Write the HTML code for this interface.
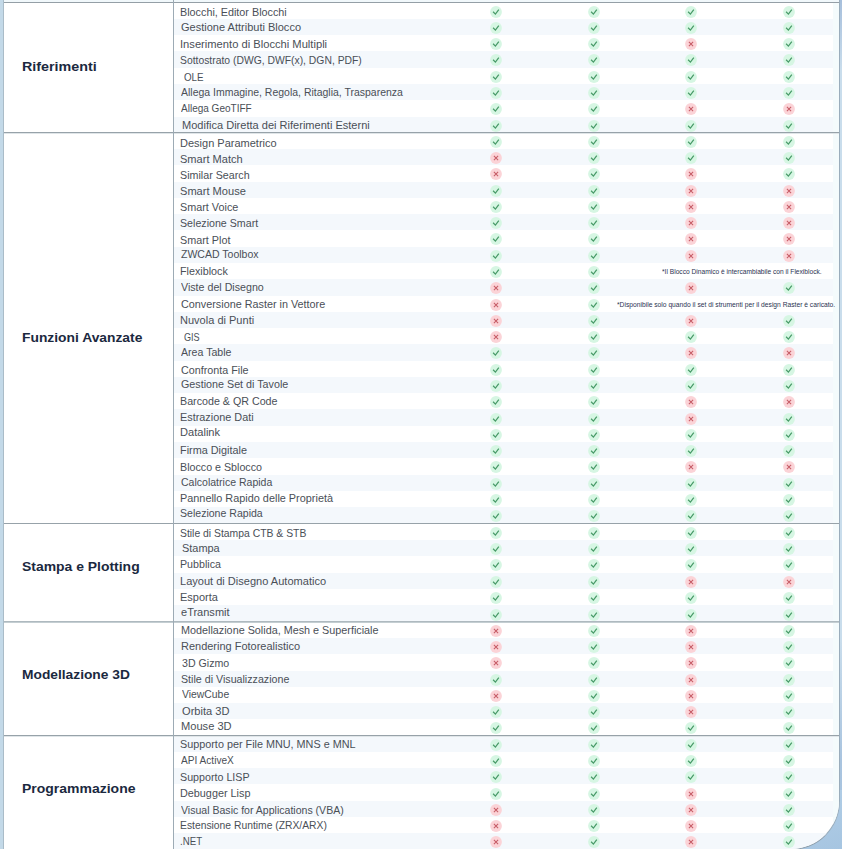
<!DOCTYPE html>
<html><head><meta charset="utf-8">
<style>
html,body{margin:0;padding:0;}
body{width:842px;height:849px;overflow:hidden;position:relative;background:#c3d9e8;font-family:"Liberation Sans",sans-serif;}
.box{position:absolute;left:3px;top:-20px;width:835px;height:868px;background:#fff;border:1px solid #8fa0ad;border-left-color:#aabcc8;border-right-color:#9aadbc;border-bottom-right-radius:49px;overflow:hidden;}
.rs{position:absolute;left:840px;top:0;width:2px;height:849px;background:linear-gradient(#a6bfdc 0px,#c9ddec 70px,#c9ddec 640px,#a9c4df 760px,#a9c6e1 849px);}
.cn{position:absolute;left:780px;top:790px;width:62px;height:59px;background:linear-gradient(160deg,#b3cfe7,#a6c5e1);}
.s{position:absolute;left:170px;width:659px;background:#f4f8fc;}
.h{position:absolute;left:0;width:835px;height:1px;background:#929ea8;}
.v{position:absolute;left:169px;top:0;width:1px;height:868px;background:#9dabb5;}
.t{position:absolute;white-space:pre;font-size:10.30px;color:#4a4f57;line-height:1;transform-origin:0 0;}
.l{position:absolute;white-space:pre;font-size:13.70px;font-weight:bold;color:#1b2940;line-height:1;transform-origin:0 0;}
.n{position:absolute;white-space:pre;font-size:6.60px;color:#2b3352;line-height:1;transform-origin:0 0;}
svg.i{position:absolute;width:14px;height:14px;overflow:visible;}
</style></head><body>
<div class="rs"></div><div class="cn"></div>
<div class="box">
<div style="position:absolute;left:829px;top:0;width:6px;height:868px;background:#f4fbfc"></div>

<div style="position:absolute;left:0;top:0;width:835px;height:21.00px;background:#f1f8fb"></div>
<div class="t" id="r0" style="left:176.25px;top:26.51px;transform:scaleX(1.0476)">Blocchi, Editor Blocchi</div>
<svg class="i" style="left:485.20px;top:23.54px" viewBox="-7 -7 14 14"><circle r="5.90" fill="#d6f6e3"/><path d="M-2.9 -0.2L-0.6 2.1L2.8 -2.3" fill="none" stroke="#479a67" stroke-width="1.25"/></svg>
<svg class="i" style="left:582.80px;top:23.54px" viewBox="-7 -7 14 14"><circle r="5.90" fill="#d6f6e3"/><path d="M-2.9 -0.2L-0.6 2.1L2.8 -2.3" fill="none" stroke="#479a67" stroke-width="1.25"/></svg>
<svg class="i" style="left:680.40px;top:23.54px" viewBox="-7 -7 14 14"><circle r="5.90" fill="#d6f6e3"/><path d="M-2.9 -0.2L-0.6 2.1L2.8 -2.3" fill="none" stroke="#479a67" stroke-width="1.25"/></svg>
<svg class="i" style="left:778.00px;top:23.54px" viewBox="-7 -7 14 14"><circle r="5.90" fill="#d6f6e3"/><path d="M-2.9 -0.2L-0.6 2.1L2.8 -2.3" fill="none" stroke="#479a67" stroke-width="1.25"/></svg>
<div class="s" style="top:37.79px;height:16.29px"></div>
<div class="t" id="r1" style="left:177.25px;top:41.81px;transform:scaleX(1.0698)">Gestione Attributi Blocco</div>
<svg class="i" style="left:485.20px;top:39.83px" viewBox="-7 -7 14 14"><circle r="5.90" fill="#d6f6e3"/><path d="M-2.9 -0.2L-0.6 2.1L2.8 -2.3" fill="none" stroke="#479a67" stroke-width="1.25"/></svg>
<svg class="i" style="left:582.80px;top:39.83px" viewBox="-7 -7 14 14"><circle r="5.90" fill="#d6f6e3"/><path d="M-2.9 -0.2L-0.6 2.1L2.8 -2.3" fill="none" stroke="#479a67" stroke-width="1.25"/></svg>
<svg class="i" style="left:680.40px;top:39.83px" viewBox="-7 -7 14 14"><circle r="5.90" fill="#d6f6e3"/><path d="M-2.9 -0.2L-0.6 2.1L2.8 -2.3" fill="none" stroke="#479a67" stroke-width="1.25"/></svg>
<svg class="i" style="left:778.00px;top:39.83px" viewBox="-7 -7 14 14"><circle r="5.90" fill="#d6f6e3"/><path d="M-2.9 -0.2L-0.6 2.1L2.8 -2.3" fill="none" stroke="#479a67" stroke-width="1.25"/></svg>
<div class="t" id="r2" style="left:176.25px;top:58.51px;transform:scaleX(1.0845)">Inserimento di Blocchi Multipli</div>
<svg class="i" style="left:485.20px;top:56.12px" viewBox="-7 -7 14 14"><circle r="5.90" fill="#d6f6e3"/><path d="M-2.9 -0.2L-0.6 2.1L2.8 -2.3" fill="none" stroke="#479a67" stroke-width="1.25"/></svg>
<svg class="i" style="left:582.80px;top:56.12px" viewBox="-7 -7 14 14"><circle r="5.90" fill="#d6f6e3"/><path d="M-2.9 -0.2L-0.6 2.1L2.8 -2.3" fill="none" stroke="#479a67" stroke-width="1.25"/></svg>
<svg class="i" style="left:680.40px;top:56.12px" viewBox="-7 -7 14 14"><circle r="5.90" fill="#fbd3d7"/><path d="M-2.1 -2.1L2.1 2.1M2.1 -2.1L-2.1 2.1" fill="none" stroke="#c65c66" stroke-width="1.05"/></svg>
<svg class="i" style="left:778.00px;top:56.12px" viewBox="-7 -7 14 14"><circle r="5.90" fill="#d6f6e3"/><path d="M-2.9 -0.2L-0.6 2.1L2.8 -2.3" fill="none" stroke="#479a67" stroke-width="1.25"/></svg>
<div class="s" style="top:70.36px;height:16.29px"></div>
<div class="t" id="r3" style="left:176.25px;top:75.10px;transform:scaleX(1.0057)">Sottostrato (DWG, DWF(x), DGN, PDF)</div>
<svg class="i" style="left:485.20px;top:72.41px" viewBox="-7 -7 14 14"><circle r="5.90" fill="#d6f6e3"/><path d="M-2.9 -0.2L-0.6 2.1L2.8 -2.3" fill="none" stroke="#479a67" stroke-width="1.25"/></svg>
<svg class="i" style="left:582.80px;top:72.41px" viewBox="-7 -7 14 14"><circle r="5.90" fill="#d6f6e3"/><path d="M-2.9 -0.2L-0.6 2.1L2.8 -2.3" fill="none" stroke="#479a67" stroke-width="1.25"/></svg>
<svg class="i" style="left:680.40px;top:72.41px" viewBox="-7 -7 14 14"><circle r="5.90" fill="#d6f6e3"/><path d="M-2.9 -0.2L-0.6 2.1L2.8 -2.3" fill="none" stroke="#479a67" stroke-width="1.25"/></svg>
<svg class="i" style="left:778.00px;top:72.41px" viewBox="-7 -7 14 14"><circle r="5.90" fill="#d6f6e3"/><path d="M-2.9 -0.2L-0.6 2.1L2.8 -2.3" fill="none" stroke="#479a67" stroke-width="1.25"/></svg>
<div class="t" id="r4" style="left:179.50px;top:92.10px;transform:scaleX(0.9500)">OLE</div>
<svg class="i" style="left:485.20px;top:88.69px" viewBox="-7 -7 14 14"><circle r="5.90" fill="#d6f6e3"/><path d="M-2.9 -0.2L-0.6 2.1L2.8 -2.3" fill="none" stroke="#479a67" stroke-width="1.25"/></svg>
<svg class="i" style="left:582.80px;top:88.69px" viewBox="-7 -7 14 14"><circle r="5.90" fill="#d6f6e3"/><path d="M-2.9 -0.2L-0.6 2.1L2.8 -2.3" fill="none" stroke="#479a67" stroke-width="1.25"/></svg>
<svg class="i" style="left:680.40px;top:88.69px" viewBox="-7 -7 14 14"><circle r="5.90" fill="#d6f6e3"/><path d="M-2.9 -0.2L-0.6 2.1L2.8 -2.3" fill="none" stroke="#479a67" stroke-width="1.25"/></svg>
<svg class="i" style="left:778.00px;top:88.69px" viewBox="-7 -7 14 14"><circle r="5.90" fill="#d6f6e3"/><path d="M-2.9 -0.2L-0.6 2.1L2.8 -2.3" fill="none" stroke="#479a67" stroke-width="1.25"/></svg>
<div class="s" style="top:102.94px;height:16.29px"></div>
<div class="t" id="r5" style="left:177.25px;top:106.51px;transform:scaleX(1.0175)">Allega Immagine, Regola, Ritaglia, Trasparenza</div>
<svg class="i" style="left:485.20px;top:104.98px" viewBox="-7 -7 14 14"><circle r="5.90" fill="#d6f6e3"/><path d="M-2.9 -0.2L-0.6 2.1L2.8 -2.3" fill="none" stroke="#479a67" stroke-width="1.25"/></svg>
<svg class="i" style="left:582.80px;top:104.98px" viewBox="-7 -7 14 14"><circle r="5.90" fill="#d6f6e3"/><path d="M-2.9 -0.2L-0.6 2.1L2.8 -2.3" fill="none" stroke="#479a67" stroke-width="1.25"/></svg>
<svg class="i" style="left:680.40px;top:104.98px" viewBox="-7 -7 14 14"><circle r="5.90" fill="#d6f6e3"/><path d="M-2.9 -0.2L-0.6 2.1L2.8 -2.3" fill="none" stroke="#479a67" stroke-width="1.25"/></svg>
<svg class="i" style="left:778.00px;top:104.98px" viewBox="-7 -7 14 14"><circle r="5.90" fill="#d6f6e3"/><path d="M-2.9 -0.2L-0.6 2.1L2.8 -2.3" fill="none" stroke="#479a67" stroke-width="1.25"/></svg>
<div class="t" id="r6" style="left:177.25px;top:122.81px;transform:scaleX(0.9723)">Allega GeoTIFF</div>
<svg class="i" style="left:485.20px;top:121.27px" viewBox="-7 -7 14 14"><circle r="5.90" fill="#d6f6e3"/><path d="M-2.9 -0.2L-0.6 2.1L2.8 -2.3" fill="none" stroke="#479a67" stroke-width="1.25"/></svg>
<svg class="i" style="left:582.80px;top:121.27px" viewBox="-7 -7 14 14"><circle r="5.90" fill="#d6f6e3"/><path d="M-2.9 -0.2L-0.6 2.1L2.8 -2.3" fill="none" stroke="#479a67" stroke-width="1.25"/></svg>
<svg class="i" style="left:680.40px;top:121.27px" viewBox="-7 -7 14 14"><circle r="5.90" fill="#fbd3d7"/><path d="M-2.1 -2.1L2.1 2.1M2.1 -2.1L-2.1 2.1" fill="none" stroke="#c65c66" stroke-width="1.05"/></svg>
<svg class="i" style="left:778.00px;top:121.27px" viewBox="-7 -7 14 14"><circle r="5.90" fill="#fbd3d7"/><path d="M-2.1 -2.1L2.1 2.1M2.1 -2.1L-2.1 2.1" fill="none" stroke="#c65c66" stroke-width="1.05"/></svg>
<div class="s" style="top:135.51px;height:16.29px"></div>
<div class="t" id="r7" style="left:178.00px;top:140.41px;transform:scaleX(1.0724)">Modifica Diretta dei Riferimenti Esterni</div>
<svg class="i" style="left:485.20px;top:137.56px" viewBox="-7 -7 14 14"><circle r="5.90" fill="#d6f6e3"/><path d="M-2.9 -0.2L-0.6 2.1L2.8 -2.3" fill="none" stroke="#479a67" stroke-width="1.25"/></svg>
<svg class="i" style="left:582.80px;top:137.56px" viewBox="-7 -7 14 14"><circle r="5.90" fill="#d6f6e3"/><path d="M-2.9 -0.2L-0.6 2.1L2.8 -2.3" fill="none" stroke="#479a67" stroke-width="1.25"/></svg>
<svg class="i" style="left:680.40px;top:137.56px" viewBox="-7 -7 14 14"><circle r="5.90" fill="#d6f6e3"/><path d="M-2.9 -0.2L-0.6 2.1L2.8 -2.3" fill="none" stroke="#479a67" stroke-width="1.25"/></svg>
<svg class="i" style="left:778.00px;top:137.56px" viewBox="-7 -7 14 14"><circle r="5.90" fill="#d6f6e3"/><path d="M-2.9 -0.2L-0.6 2.1L2.8 -2.3" fill="none" stroke="#479a67" stroke-width="1.25"/></svg>
<div class="t" id="r8" style="left:176.25px;top:157.60px;transform:scaleX(1.0691)">Design Parametrico</div>
<svg class="i" style="left:485.20px;top:153.84px" viewBox="-7 -7 14 14"><circle r="5.90" fill="#d6f6e3"/><path d="M-2.9 -0.2L-0.6 2.1L2.8 -2.3" fill="none" stroke="#479a67" stroke-width="1.25"/></svg>
<svg class="i" style="left:582.80px;top:153.84px" viewBox="-7 -7 14 14"><circle r="5.90" fill="#d6f6e3"/><path d="M-2.9 -0.2L-0.6 2.1L2.8 -2.3" fill="none" stroke="#479a67" stroke-width="1.25"/></svg>
<svg class="i" style="left:680.40px;top:153.84px" viewBox="-7 -7 14 14"><circle r="5.90" fill="#d6f6e3"/><path d="M-2.9 -0.2L-0.6 2.1L2.8 -2.3" fill="none" stroke="#479a67" stroke-width="1.25"/></svg>
<svg class="i" style="left:778.00px;top:153.84px" viewBox="-7 -7 14 14"><circle r="5.90" fill="#d6f6e3"/><path d="M-2.9 -0.2L-0.6 2.1L2.8 -2.3" fill="none" stroke="#479a67" stroke-width="1.25"/></svg>
<div class="s" style="top:168.08px;height:16.27px"></div>
<div class="t" id="r9" style="left:176.25px;top:173.51px;transform:scaleX(1.0729)">Smart Match</div>
<svg class="i" style="left:485.20px;top:170.11px" viewBox="-7 -7 14 14"><circle r="5.90" fill="#fbd3d7"/><path d="M-2.1 -2.1L2.1 2.1M2.1 -2.1L-2.1 2.1" fill="none" stroke="#c65c66" stroke-width="1.05"/></svg>
<svg class="i" style="left:582.80px;top:170.11px" viewBox="-7 -7 14 14"><circle r="5.90" fill="#d6f6e3"/><path d="M-2.9 -0.2L-0.6 2.1L2.8 -2.3" fill="none" stroke="#479a67" stroke-width="1.25"/></svg>
<svg class="i" style="left:680.40px;top:170.11px" viewBox="-7 -7 14 14"><circle r="5.90" fill="#d6f6e3"/><path d="M-2.9 -0.2L-0.6 2.1L2.8 -2.3" fill="none" stroke="#479a67" stroke-width="1.25"/></svg>
<svg class="i" style="left:778.00px;top:170.11px" viewBox="-7 -7 14 14"><circle r="5.90" fill="#d6f6e3"/><path d="M-2.9 -0.2L-0.6 2.1L2.8 -2.3" fill="none" stroke="#479a67" stroke-width="1.25"/></svg>
<div class="t" id="r10" style="left:176.25px;top:189.71px;transform:scaleX(1.0395)">Similar Search</div>
<svg class="i" style="left:485.20px;top:186.39px" viewBox="-7 -7 14 14"><circle r="5.90" fill="#fbd3d7"/><path d="M-2.1 -2.1L2.1 2.1M2.1 -2.1L-2.1 2.1" fill="none" stroke="#c65c66" stroke-width="1.05"/></svg>
<svg class="i" style="left:582.80px;top:186.39px" viewBox="-7 -7 14 14"><circle r="5.90" fill="#d6f6e3"/><path d="M-2.9 -0.2L-0.6 2.1L2.8 -2.3" fill="none" stroke="#479a67" stroke-width="1.25"/></svg>
<svg class="i" style="left:680.40px;top:186.39px" viewBox="-7 -7 14 14"><circle r="5.90" fill="#fbd3d7"/><path d="M-2.1 -2.1L2.1 2.1M2.1 -2.1L-2.1 2.1" fill="none" stroke="#c65c66" stroke-width="1.05"/></svg>
<svg class="i" style="left:778.00px;top:186.39px" viewBox="-7 -7 14 14"><circle r="5.90" fill="#d6f6e3"/><path d="M-2.9 -0.2L-0.6 2.1L2.8 -2.3" fill="none" stroke="#479a67" stroke-width="1.25"/></svg>
<div class="s" style="top:200.62px;height:16.27px"></div>
<div class="t" id="r11" style="left:176.25px;top:205.60px;transform:scaleX(1.0758)">Smart Mouse</div>
<svg class="i" style="left:485.20px;top:202.66px" viewBox="-7 -7 14 14"><circle r="5.90" fill="#d6f6e3"/><path d="M-2.9 -0.2L-0.6 2.1L2.8 -2.3" fill="none" stroke="#479a67" stroke-width="1.25"/></svg>
<svg class="i" style="left:582.80px;top:202.66px" viewBox="-7 -7 14 14"><circle r="5.90" fill="#d6f6e3"/><path d="M-2.9 -0.2L-0.6 2.1L2.8 -2.3" fill="none" stroke="#479a67" stroke-width="1.25"/></svg>
<svg class="i" style="left:680.40px;top:202.66px" viewBox="-7 -7 14 14"><circle r="5.90" fill="#fbd3d7"/><path d="M-2.1 -2.1L2.1 2.1M2.1 -2.1L-2.1 2.1" fill="none" stroke="#c65c66" stroke-width="1.05"/></svg>
<svg class="i" style="left:778.00px;top:202.66px" viewBox="-7 -7 14 14"><circle r="5.90" fill="#fbd3d7"/><path d="M-2.1 -2.1L2.1 2.1M2.1 -2.1L-2.1 2.1" fill="none" stroke="#c65c66" stroke-width="1.05"/></svg>
<div class="t" id="r12" style="left:176.25px;top:221.81px;transform:scaleX(1.0509)">Smart Voice</div>
<svg class="i" style="left:485.20px;top:218.94px" viewBox="-7 -7 14 14"><circle r="5.90" fill="#d6f6e3"/><path d="M-2.9 -0.2L-0.6 2.1L2.8 -2.3" fill="none" stroke="#479a67" stroke-width="1.25"/></svg>
<svg class="i" style="left:582.80px;top:218.94px" viewBox="-7 -7 14 14"><circle r="5.90" fill="#d6f6e3"/><path d="M-2.9 -0.2L-0.6 2.1L2.8 -2.3" fill="none" stroke="#479a67" stroke-width="1.25"/></svg>
<svg class="i" style="left:680.40px;top:218.94px" viewBox="-7 -7 14 14"><circle r="5.90" fill="#fbd3d7"/><path d="M-2.1 -2.1L2.1 2.1M2.1 -2.1L-2.1 2.1" fill="none" stroke="#c65c66" stroke-width="1.05"/></svg>
<svg class="i" style="left:778.00px;top:218.94px" viewBox="-7 -7 14 14"><circle r="5.90" fill="#fbd3d7"/><path d="M-2.1 -2.1L2.1 2.1M2.1 -2.1L-2.1 2.1" fill="none" stroke="#c65c66" stroke-width="1.05"/></svg>
<div class="s" style="top:233.18px;height:16.27px"></div>
<div class="t" id="r13" style="left:176.25px;top:238.41px;transform:scaleX(1.0346)">Selezione Smart</div>
<svg class="i" style="left:485.20px;top:235.21px" viewBox="-7 -7 14 14"><circle r="5.90" fill="#d6f6e3"/><path d="M-2.9 -0.2L-0.6 2.1L2.8 -2.3" fill="none" stroke="#479a67" stroke-width="1.25"/></svg>
<svg class="i" style="left:582.80px;top:235.21px" viewBox="-7 -7 14 14"><circle r="5.90" fill="#d6f6e3"/><path d="M-2.9 -0.2L-0.6 2.1L2.8 -2.3" fill="none" stroke="#479a67" stroke-width="1.25"/></svg>
<svg class="i" style="left:680.40px;top:235.21px" viewBox="-7 -7 14 14"><circle r="5.90" fill="#fbd3d7"/><path d="M-2.1 -2.1L2.1 2.1M2.1 -2.1L-2.1 2.1" fill="none" stroke="#c65c66" stroke-width="1.05"/></svg>
<svg class="i" style="left:778.00px;top:235.21px" viewBox="-7 -7 14 14"><circle r="5.90" fill="#fbd3d7"/><path d="M-2.1 -2.1L2.1 2.1M2.1 -2.1L-2.1 2.1" fill="none" stroke="#c65c66" stroke-width="1.05"/></svg>
<div class="t" id="r14" style="left:176.25px;top:254.51px;transform:scaleX(1.0501)">Smart Plot</div>
<svg class="i" style="left:485.20px;top:251.49px" viewBox="-7 -7 14 14"><circle r="5.90" fill="#d6f6e3"/><path d="M-2.9 -0.2L-0.6 2.1L2.8 -2.3" fill="none" stroke="#479a67" stroke-width="1.25"/></svg>
<svg class="i" style="left:582.80px;top:251.49px" viewBox="-7 -7 14 14"><circle r="5.90" fill="#d6f6e3"/><path d="M-2.9 -0.2L-0.6 2.1L2.8 -2.3" fill="none" stroke="#479a67" stroke-width="1.25"/></svg>
<svg class="i" style="left:680.40px;top:251.49px" viewBox="-7 -7 14 14"><circle r="5.90" fill="#fbd3d7"/><path d="M-2.1 -2.1L2.1 2.1M2.1 -2.1L-2.1 2.1" fill="none" stroke="#c65c66" stroke-width="1.05"/></svg>
<svg class="i" style="left:778.00px;top:251.49px" viewBox="-7 -7 14 14"><circle r="5.90" fill="#fbd3d7"/><path d="M-2.1 -2.1L2.1 2.1M2.1 -2.1L-2.1 2.1" fill="none" stroke="#c65c66" stroke-width="1.05"/></svg>
<div class="s" style="top:265.73px;height:16.27px"></div>
<div class="t" id="r15" style="left:177.25px;top:269.31px;transform:scaleX(1.0211)">ZWCAD Toolbox</div>
<svg class="i" style="left:485.20px;top:267.76px" viewBox="-7 -7 14 14"><circle r="5.90" fill="#d6f6e3"/><path d="M-2.9 -0.2L-0.6 2.1L2.8 -2.3" fill="none" stroke="#479a67" stroke-width="1.25"/></svg>
<svg class="i" style="left:582.80px;top:267.76px" viewBox="-7 -7 14 14"><circle r="5.90" fill="#d6f6e3"/><path d="M-2.9 -0.2L-0.6 2.1L2.8 -2.3" fill="none" stroke="#479a67" stroke-width="1.25"/></svg>
<svg class="i" style="left:680.40px;top:267.76px" viewBox="-7 -7 14 14"><circle r="5.90" fill="#fbd3d7"/><path d="M-2.1 -2.1L2.1 2.1M2.1 -2.1L-2.1 2.1" fill="none" stroke="#c65c66" stroke-width="1.05"/></svg>
<svg class="i" style="left:778.00px;top:267.76px" viewBox="-7 -7 14 14"><circle r="5.90" fill="#fbd3d7"/><path d="M-2.1 -2.1L2.1 2.1M2.1 -2.1L-2.1 2.1" fill="none" stroke="#c65c66" stroke-width="1.05"/></svg>
<div class="t" id="r16" style="left:176.25px;top:285.71px;transform:scaleX(1.0446)">Flexiblock</div>
<svg class="i" style="left:485.20px;top:284.04px" viewBox="-7 -7 14 14"><circle r="5.90" fill="#d6f6e3"/><path d="M-2.9 -0.2L-0.6 2.1L2.8 -2.3" fill="none" stroke="#479a67" stroke-width="1.25"/></svg>
<svg class="i" style="left:582.80px;top:284.04px" viewBox="-7 -7 14 14"><circle r="5.90" fill="#d6f6e3"/><path d="M-2.9 -0.2L-0.6 2.1L2.8 -2.3" fill="none" stroke="#479a67" stroke-width="1.25"/></svg>
<div class="n" id="n1" style="left:658.00px;top:288.40px;transform:scaleX(1.0063)">*Il Blocco Dinamico &egrave; intercambiabile con il Flexiblock.</div>
<div class="s" style="top:298.27px;height:16.27px"></div>
<div class="t" id="r17" style="left:177.25px;top:301.91px;transform:scaleX(1.0356)">Viste del Disegno</div>
<svg class="i" style="left:485.20px;top:300.31px" viewBox="-7 -7 14 14"><circle r="5.90" fill="#fbd3d7"/><path d="M-2.1 -2.1L2.1 2.1M2.1 -2.1L-2.1 2.1" fill="none" stroke="#c65c66" stroke-width="1.05"/></svg>
<svg class="i" style="left:582.80px;top:300.31px" viewBox="-7 -7 14 14"><circle r="5.90" fill="#d6f6e3"/><path d="M-2.9 -0.2L-0.6 2.1L2.8 -2.3" fill="none" stroke="#479a67" stroke-width="1.25"/></svg>
<svg class="i" style="left:680.40px;top:300.31px" viewBox="-7 -7 14 14"><circle r="5.90" fill="#fbd3d7"/><path d="M-2.1 -2.1L2.1 2.1M2.1 -2.1L-2.1 2.1" fill="none" stroke="#c65c66" stroke-width="1.05"/></svg>
<svg class="i" style="left:778.00px;top:300.31px" viewBox="-7 -7 14 14"><circle r="5.90" fill="#d6f6e3"/><path d="M-2.9 -0.2L-0.6 2.1L2.8 -2.3" fill="none" stroke="#479a67" stroke-width="1.25"/></svg>
<div class="t" id="r18" style="left:177.25px;top:318.51px;transform:scaleX(1.0497)">Conversione Raster in Vettore</div>
<svg class="i" style="left:485.20px;top:316.59px" viewBox="-7 -7 14 14"><circle r="5.90" fill="#fbd3d7"/><path d="M-2.1 -2.1L2.1 2.1M2.1 -2.1L-2.1 2.1" fill="none" stroke="#c65c66" stroke-width="1.05"/></svg>
<svg class="i" style="left:582.80px;top:316.59px" viewBox="-7 -7 14 14"><circle r="5.90" fill="#d6f6e3"/><path d="M-2.9 -0.2L-0.6 2.1L2.8 -2.3" fill="none" stroke="#479a67" stroke-width="1.25"/></svg>
<div class="n" id="n2" style="left:612.50px;top:320.61px;transform:scaleX(1.0158)">*Disponibile solo quando il set di strumenti per il design Raster &egrave; caricato.</div>
<div class="s" style="top:330.82px;height:16.27px"></div>
<div class="t" id="r19" style="left:176.25px;top:334.71px;transform:scaleX(1.0706)">Nuvola di Punti</div>
<svg class="i" style="left:485.20px;top:332.86px" viewBox="-7 -7 14 14"><circle r="5.90" fill="#fbd3d7"/><path d="M-2.1 -2.1L2.1 2.1M2.1 -2.1L-2.1 2.1" fill="none" stroke="#c65c66" stroke-width="1.05"/></svg>
<svg class="i" style="left:582.80px;top:332.86px" viewBox="-7 -7 14 14"><circle r="5.90" fill="#d6f6e3"/><path d="M-2.9 -0.2L-0.6 2.1L2.8 -2.3" fill="none" stroke="#479a67" stroke-width="1.25"/></svg>
<svg class="i" style="left:680.40px;top:332.86px" viewBox="-7 -7 14 14"><circle r="5.90" fill="#fbd3d7"/><path d="M-2.1 -2.1L2.1 2.1M2.1 -2.1L-2.1 2.1" fill="none" stroke="#c65c66" stroke-width="1.05"/></svg>
<svg class="i" style="left:778.00px;top:332.86px" viewBox="-7 -7 14 14"><circle r="5.90" fill="#d6f6e3"/><path d="M-2.9 -0.2L-0.6 2.1L2.8 -2.3" fill="none" stroke="#479a67" stroke-width="1.25"/></svg>
<div class="t" id="r20" style="left:179.50px;top:351.81px;transform:scaleX(0.8842)">GIS</div>
<svg class="i" style="left:485.20px;top:349.14px" viewBox="-7 -7 14 14"><circle r="5.90" fill="#fbd3d7"/><path d="M-2.1 -2.1L2.1 2.1M2.1 -2.1L-2.1 2.1" fill="none" stroke="#c65c66" stroke-width="1.05"/></svg>
<svg class="i" style="left:582.80px;top:349.14px" viewBox="-7 -7 14 14"><circle r="5.90" fill="#d6f6e3"/><path d="M-2.9 -0.2L-0.6 2.1L2.8 -2.3" fill="none" stroke="#479a67" stroke-width="1.25"/></svg>
<svg class="i" style="left:680.40px;top:349.14px" viewBox="-7 -7 14 14"><circle r="5.90" fill="#d6f6e3"/><path d="M-2.9 -0.2L-0.6 2.1L2.8 -2.3" fill="none" stroke="#479a67" stroke-width="1.25"/></svg>
<svg class="i" style="left:778.00px;top:349.14px" viewBox="-7 -7 14 14"><circle r="5.90" fill="#d6f6e3"/><path d="M-2.9 -0.2L-0.6 2.1L2.8 -2.3" fill="none" stroke="#479a67" stroke-width="1.25"/></svg>
<div class="s" style="top:363.38px;height:16.27px"></div>
<div class="t" id="r21" style="left:177.25px;top:367.21px;transform:scaleX(1.0287)">Area Table</div>
<svg class="i" style="left:485.20px;top:365.41px" viewBox="-7 -7 14 14"><circle r="5.90" fill="#d6f6e3"/><path d="M-2.9 -0.2L-0.6 2.1L2.8 -2.3" fill="none" stroke="#479a67" stroke-width="1.25"/></svg>
<svg class="i" style="left:582.80px;top:365.41px" viewBox="-7 -7 14 14"><circle r="5.90" fill="#d6f6e3"/><path d="M-2.9 -0.2L-0.6 2.1L2.8 -2.3" fill="none" stroke="#479a67" stroke-width="1.25"/></svg>
<svg class="i" style="left:680.40px;top:365.41px" viewBox="-7 -7 14 14"><circle r="5.90" fill="#fbd3d7"/><path d="M-2.1 -2.1L2.1 2.1M2.1 -2.1L-2.1 2.1" fill="none" stroke="#c65c66" stroke-width="1.05"/></svg>
<svg class="i" style="left:778.00px;top:365.41px" viewBox="-7 -7 14 14"><circle r="5.90" fill="#fbd3d7"/><path d="M-2.1 -2.1L2.1 2.1M2.1 -2.1L-2.1 2.1" fill="none" stroke="#c65c66" stroke-width="1.05"/></svg>
<div class="t" id="r22" style="left:177.25px;top:384.51px;transform:scaleX(1.0439)">Confronta File</div>
<svg class="i" style="left:485.20px;top:381.69px" viewBox="-7 -7 14 14"><circle r="5.90" fill="#d6f6e3"/><path d="M-2.9 -0.2L-0.6 2.1L2.8 -2.3" fill="none" stroke="#479a67" stroke-width="1.25"/></svg>
<svg class="i" style="left:582.80px;top:381.69px" viewBox="-7 -7 14 14"><circle r="5.90" fill="#d6f6e3"/><path d="M-2.9 -0.2L-0.6 2.1L2.8 -2.3" fill="none" stroke="#479a67" stroke-width="1.25"/></svg>
<svg class="i" style="left:680.40px;top:381.69px" viewBox="-7 -7 14 14"><circle r="5.90" fill="#d6f6e3"/><path d="M-2.9 -0.2L-0.6 2.1L2.8 -2.3" fill="none" stroke="#479a67" stroke-width="1.25"/></svg>
<svg class="i" style="left:778.00px;top:381.69px" viewBox="-7 -7 14 14"><circle r="5.90" fill="#d6f6e3"/><path d="M-2.9 -0.2L-0.6 2.1L2.8 -2.3" fill="none" stroke="#479a67" stroke-width="1.25"/></svg>
<div class="s" style="top:395.92px;height:16.27px"></div>
<div class="t" id="r23" style="left:177.25px;top:399.31px;transform:scaleX(1.0431)">Gestione Set di Tavole</div>
<svg class="i" style="left:485.20px;top:397.96px" viewBox="-7 -7 14 14"><circle r="5.90" fill="#d6f6e3"/><path d="M-2.9 -0.2L-0.6 2.1L2.8 -2.3" fill="none" stroke="#479a67" stroke-width="1.25"/></svg>
<svg class="i" style="left:582.80px;top:397.96px" viewBox="-7 -7 14 14"><circle r="5.90" fill="#d6f6e3"/><path d="M-2.9 -0.2L-0.6 2.1L2.8 -2.3" fill="none" stroke="#479a67" stroke-width="1.25"/></svg>
<svg class="i" style="left:680.40px;top:397.96px" viewBox="-7 -7 14 14"><circle r="5.90" fill="#d6f6e3"/><path d="M-2.9 -0.2L-0.6 2.1L2.8 -2.3" fill="none" stroke="#479a67" stroke-width="1.25"/></svg>
<svg class="i" style="left:778.00px;top:397.96px" viewBox="-7 -7 14 14"><circle r="5.90" fill="#d6f6e3"/><path d="M-2.9 -0.2L-0.6 2.1L2.8 -2.3" fill="none" stroke="#479a67" stroke-width="1.25"/></svg>
<div class="t" id="r24" style="left:176.25px;top:415.71px;transform:scaleX(1.0386)">Barcode &amp; QR Code</div>
<svg class="i" style="left:485.20px;top:414.24px" viewBox="-7 -7 14 14"><circle r="5.90" fill="#d6f6e3"/><path d="M-2.9 -0.2L-0.6 2.1L2.8 -2.3" fill="none" stroke="#479a67" stroke-width="1.25"/></svg>
<svg class="i" style="left:582.80px;top:414.24px" viewBox="-7 -7 14 14"><circle r="5.90" fill="#d6f6e3"/><path d="M-2.9 -0.2L-0.6 2.1L2.8 -2.3" fill="none" stroke="#479a67" stroke-width="1.25"/></svg>
<svg class="i" style="left:680.40px;top:414.24px" viewBox="-7 -7 14 14"><circle r="5.90" fill="#fbd3d7"/><path d="M-2.1 -2.1L2.1 2.1M2.1 -2.1L-2.1 2.1" fill="none" stroke="#c65c66" stroke-width="1.05"/></svg>
<svg class="i" style="left:778.00px;top:414.24px" viewBox="-7 -7 14 14"><circle r="5.90" fill="#fbd3d7"/><path d="M-2.1 -2.1L2.1 2.1M2.1 -2.1L-2.1 2.1" fill="none" stroke="#c65c66" stroke-width="1.05"/></svg>
<div class="s" style="top:428.47px;height:16.27px"></div>
<div class="t" id="r25" style="left:176.25px;top:431.91px;transform:scaleX(1.0552)">Estrazione Dati</div>
<svg class="i" style="left:485.20px;top:430.51px" viewBox="-7 -7 14 14"><circle r="5.90" fill="#d6f6e3"/><path d="M-2.9 -0.2L-0.6 2.1L2.8 -2.3" fill="none" stroke="#479a67" stroke-width="1.25"/></svg>
<svg class="i" style="left:582.80px;top:430.51px" viewBox="-7 -7 14 14"><circle r="5.90" fill="#d6f6e3"/><path d="M-2.9 -0.2L-0.6 2.1L2.8 -2.3" fill="none" stroke="#479a67" stroke-width="1.25"/></svg>
<svg class="i" style="left:680.40px;top:430.51px" viewBox="-7 -7 14 14"><circle r="5.90" fill="#fbd3d7"/><path d="M-2.1 -2.1L2.1 2.1M2.1 -2.1L-2.1 2.1" fill="none" stroke="#c65c66" stroke-width="1.05"/></svg>
<svg class="i" style="left:778.00px;top:430.51px" viewBox="-7 -7 14 14"><circle r="5.90" fill="#d6f6e3"/><path d="M-2.9 -0.2L-0.6 2.1L2.8 -2.3" fill="none" stroke="#479a67" stroke-width="1.25"/></svg>
<div class="t" id="r26" style="left:176.25px;top:446.81px;transform:scaleX(1.0766)">Datalink</div>
<svg class="i" style="left:485.20px;top:446.79px" viewBox="-7 -7 14 14"><circle r="5.90" fill="#d6f6e3"/><path d="M-2.9 -0.2L-0.6 2.1L2.8 -2.3" fill="none" stroke="#479a67" stroke-width="1.25"/></svg>
<svg class="i" style="left:582.80px;top:446.79px" viewBox="-7 -7 14 14"><circle r="5.90" fill="#d6f6e3"/><path d="M-2.9 -0.2L-0.6 2.1L2.8 -2.3" fill="none" stroke="#479a67" stroke-width="1.25"/></svg>
<svg class="i" style="left:680.40px;top:446.79px" viewBox="-7 -7 14 14"><circle r="5.90" fill="#d6f6e3"/><path d="M-2.9 -0.2L-0.6 2.1L2.8 -2.3" fill="none" stroke="#479a67" stroke-width="1.25"/></svg>
<svg class="i" style="left:778.00px;top:446.79px" viewBox="-7 -7 14 14"><circle r="5.90" fill="#d6f6e3"/><path d="M-2.9 -0.2L-0.6 2.1L2.8 -2.3" fill="none" stroke="#479a67" stroke-width="1.25"/></svg>
<div class="s" style="top:461.02px;height:16.27px"></div>
<div class="t" id="r27" style="left:176.25px;top:465.10px;transform:scaleX(1.0541)">Firma Digitale</div>
<svg class="i" style="left:485.20px;top:463.06px" viewBox="-7 -7 14 14"><circle r="5.90" fill="#d6f6e3"/><path d="M-2.9 -0.2L-0.6 2.1L2.8 -2.3" fill="none" stroke="#479a67" stroke-width="1.25"/></svg>
<svg class="i" style="left:582.80px;top:463.06px" viewBox="-7 -7 14 14"><circle r="5.90" fill="#d6f6e3"/><path d="M-2.9 -0.2L-0.6 2.1L2.8 -2.3" fill="none" stroke="#479a67" stroke-width="1.25"/></svg>
<svg class="i" style="left:680.40px;top:463.06px" viewBox="-7 -7 14 14"><circle r="5.90" fill="#d6f6e3"/><path d="M-2.9 -0.2L-0.6 2.1L2.8 -2.3" fill="none" stroke="#479a67" stroke-width="1.25"/></svg>
<svg class="i" style="left:778.00px;top:463.06px" viewBox="-7 -7 14 14"><circle r="5.90" fill="#d6f6e3"/><path d="M-2.9 -0.2L-0.6 2.1L2.8 -2.3" fill="none" stroke="#479a67" stroke-width="1.25"/></svg>
<div class="t" id="r28" style="left:176.25px;top:481.81px;transform:scaleX(1.0383)">Blocco e Sblocco</div>
<svg class="i" style="left:485.20px;top:479.34px" viewBox="-7 -7 14 14"><circle r="5.90" fill="#d6f6e3"/><path d="M-2.9 -0.2L-0.6 2.1L2.8 -2.3" fill="none" stroke="#479a67" stroke-width="1.25"/></svg>
<svg class="i" style="left:582.80px;top:479.34px" viewBox="-7 -7 14 14"><circle r="5.90" fill="#d6f6e3"/><path d="M-2.9 -0.2L-0.6 2.1L2.8 -2.3" fill="none" stroke="#479a67" stroke-width="1.25"/></svg>
<svg class="i" style="left:680.40px;top:479.34px" viewBox="-7 -7 14 14"><circle r="5.90" fill="#fbd3d7"/><path d="M-2.1 -2.1L2.1 2.1M2.1 -2.1L-2.1 2.1" fill="none" stroke="#c65c66" stroke-width="1.05"/></svg>
<svg class="i" style="left:778.00px;top:479.34px" viewBox="-7 -7 14 14"><circle r="5.90" fill="#fbd3d7"/><path d="M-2.1 -2.1L2.1 2.1M2.1 -2.1L-2.1 2.1" fill="none" stroke="#c65c66" stroke-width="1.05"/></svg>
<div class="s" style="top:493.57px;height:16.27px"></div>
<div class="t" id="r29" style="left:177.25px;top:497.21px;transform:scaleX(1.0225)">Calcolatrice Rapida</div>
<svg class="i" style="left:485.20px;top:495.61px" viewBox="-7 -7 14 14"><circle r="5.90" fill="#d6f6e3"/><path d="M-2.9 -0.2L-0.6 2.1L2.8 -2.3" fill="none" stroke="#479a67" stroke-width="1.25"/></svg>
<svg class="i" style="left:582.80px;top:495.61px" viewBox="-7 -7 14 14"><circle r="5.90" fill="#d6f6e3"/><path d="M-2.9 -0.2L-0.6 2.1L2.8 -2.3" fill="none" stroke="#479a67" stroke-width="1.25"/></svg>
<svg class="i" style="left:680.40px;top:495.61px" viewBox="-7 -7 14 14"><circle r="5.90" fill="#d6f6e3"/><path d="M-2.9 -0.2L-0.6 2.1L2.8 -2.3" fill="none" stroke="#479a67" stroke-width="1.25"/></svg>
<svg class="i" style="left:778.00px;top:495.61px" viewBox="-7 -7 14 14"><circle r="5.90" fill="#d6f6e3"/><path d="M-2.9 -0.2L-0.6 2.1L2.8 -2.3" fill="none" stroke="#479a67" stroke-width="1.25"/></svg>
<div class="t" id="r30" style="left:176.25px;top:513.41px;transform:scaleX(1.0565)">Pannello Rapido delle Propriet&agrave;</div>
<svg class="i" style="left:485.20px;top:511.89px" viewBox="-7 -7 14 14"><circle r="5.90" fill="#d6f6e3"/><path d="M-2.9 -0.2L-0.6 2.1L2.8 -2.3" fill="none" stroke="#479a67" stroke-width="1.25"/></svg>
<svg class="i" style="left:582.80px;top:511.89px" viewBox="-7 -7 14 14"><circle r="5.90" fill="#d6f6e3"/><path d="M-2.9 -0.2L-0.6 2.1L2.8 -2.3" fill="none" stroke="#479a67" stroke-width="1.25"/></svg>
<svg class="i" style="left:680.40px;top:511.89px" viewBox="-7 -7 14 14"><circle r="5.90" fill="#d6f6e3"/><path d="M-2.9 -0.2L-0.6 2.1L2.8 -2.3" fill="none" stroke="#479a67" stroke-width="1.25"/></svg>
<svg class="i" style="left:778.00px;top:511.89px" viewBox="-7 -7 14 14"><circle r="5.90" fill="#d6f6e3"/><path d="M-2.9 -0.2L-0.6 2.1L2.8 -2.3" fill="none" stroke="#479a67" stroke-width="1.25"/></svg>
<div class="s" style="top:526.12px;height:16.27px"></div>
<div class="t" id="r31" style="left:176.25px;top:528.10px;transform:scaleX(1.0251)">Selezione Rapida</div>
<svg class="i" style="left:485.20px;top:528.16px" viewBox="-7 -7 14 14"><circle r="5.90" fill="#d6f6e3"/><path d="M-2.9 -0.2L-0.6 2.1L2.8 -2.3" fill="none" stroke="#479a67" stroke-width="1.25"/></svg>
<svg class="i" style="left:582.80px;top:528.16px" viewBox="-7 -7 14 14"><circle r="5.90" fill="#d6f6e3"/><path d="M-2.9 -0.2L-0.6 2.1L2.8 -2.3" fill="none" stroke="#479a67" stroke-width="1.25"/></svg>
<svg class="i" style="left:680.40px;top:528.16px" viewBox="-7 -7 14 14"><circle r="5.90" fill="#d6f6e3"/><path d="M-2.9 -0.2L-0.6 2.1L2.8 -2.3" fill="none" stroke="#479a67" stroke-width="1.25"/></svg>
<svg class="i" style="left:778.00px;top:528.16px" viewBox="-7 -7 14 14"><circle r="5.90" fill="#d6f6e3"/><path d="M-2.9 -0.2L-0.6 2.1L2.8 -2.3" fill="none" stroke="#479a67" stroke-width="1.25"/></svg>
<div class="t" id="r32" style="left:175.50px;top:548.10px;transform:scaleX(1.0081)">Stile di Stampa CTB &amp; STB</div>
<svg class="i" style="left:485.20px;top:544.51px" viewBox="-7 -7 14 14"><circle r="5.90" fill="#d6f6e3"/><path d="M-2.9 -0.2L-0.6 2.1L2.8 -2.3" fill="none" stroke="#479a67" stroke-width="1.25"/></svg>
<svg class="i" style="left:582.80px;top:544.51px" viewBox="-7 -7 14 14"><circle r="5.90" fill="#d6f6e3"/><path d="M-2.9 -0.2L-0.6 2.1L2.8 -2.3" fill="none" stroke="#479a67" stroke-width="1.25"/></svg>
<svg class="i" style="left:680.40px;top:544.51px" viewBox="-7 -7 14 14"><circle r="5.90" fill="#d6f6e3"/><path d="M-2.9 -0.2L-0.6 2.1L2.8 -2.3" fill="none" stroke="#479a67" stroke-width="1.25"/></svg>
<svg class="i" style="left:778.00px;top:544.51px" viewBox="-7 -7 14 14"><circle r="5.90" fill="#d6f6e3"/><path d="M-2.9 -0.2L-0.6 2.1L2.8 -2.3" fill="none" stroke="#479a67" stroke-width="1.25"/></svg>
<div class="s" style="top:558.82px;height:16.42px"></div>
<div class="t" id="r33" style="left:177.50px;top:563.10px;transform:scaleX(1.0623)">Stampa</div>
<svg class="i" style="left:485.20px;top:560.92px" viewBox="-7 -7 14 14"><circle r="5.90" fill="#d6f6e3"/><path d="M-2.9 -0.2L-0.6 2.1L2.8 -2.3" fill="none" stroke="#479a67" stroke-width="1.25"/></svg>
<svg class="i" style="left:582.80px;top:560.92px" viewBox="-7 -7 14 14"><circle r="5.90" fill="#d6f6e3"/><path d="M-2.9 -0.2L-0.6 2.1L2.8 -2.3" fill="none" stroke="#479a67" stroke-width="1.25"/></svg>
<svg class="i" style="left:680.40px;top:560.92px" viewBox="-7 -7 14 14"><circle r="5.90" fill="#d6f6e3"/><path d="M-2.9 -0.2L-0.6 2.1L2.8 -2.3" fill="none" stroke="#479a67" stroke-width="1.25"/></svg>
<svg class="i" style="left:778.00px;top:560.92px" viewBox="-7 -7 14 14"><circle r="5.90" fill="#d6f6e3"/><path d="M-2.9 -0.2L-0.6 2.1L2.8 -2.3" fill="none" stroke="#479a67" stroke-width="1.25"/></svg>
<div class="t" id="r34" style="left:176.25px;top:578.51px;transform:scaleX(1.0361)">Pubblica</div>
<svg class="i" style="left:485.20px;top:577.34px" viewBox="-7 -7 14 14"><circle r="5.90" fill="#d6f6e3"/><path d="M-2.9 -0.2L-0.6 2.1L2.8 -2.3" fill="none" stroke="#479a67" stroke-width="1.25"/></svg>
<svg class="i" style="left:582.80px;top:577.34px" viewBox="-7 -7 14 14"><circle r="5.90" fill="#d6f6e3"/><path d="M-2.9 -0.2L-0.6 2.1L2.8 -2.3" fill="none" stroke="#479a67" stroke-width="1.25"/></svg>
<svg class="i" style="left:680.40px;top:577.34px" viewBox="-7 -7 14 14"><circle r="5.90" fill="#d6f6e3"/><path d="M-2.9 -0.2L-0.6 2.1L2.8 -2.3" fill="none" stroke="#479a67" stroke-width="1.25"/></svg>
<svg class="i" style="left:778.00px;top:577.34px" viewBox="-7 -7 14 14"><circle r="5.90" fill="#d6f6e3"/><path d="M-2.9 -0.2L-0.6 2.1L2.8 -2.3" fill="none" stroke="#479a67" stroke-width="1.25"/></svg>
<div class="s" style="top:591.65px;height:16.42px"></div>
<div class="t" id="r35" style="left:176.25px;top:595.60px;transform:scaleX(1.0721)">Layout di Disegno Automatico</div>
<svg class="i" style="left:485.20px;top:593.76px" viewBox="-7 -7 14 14"><circle r="5.90" fill="#d6f6e3"/><path d="M-2.9 -0.2L-0.6 2.1L2.8 -2.3" fill="none" stroke="#479a67" stroke-width="1.25"/></svg>
<svg class="i" style="left:582.80px;top:593.76px" viewBox="-7 -7 14 14"><circle r="5.90" fill="#d6f6e3"/><path d="M-2.9 -0.2L-0.6 2.1L2.8 -2.3" fill="none" stroke="#479a67" stroke-width="1.25"/></svg>
<svg class="i" style="left:680.40px;top:593.76px" viewBox="-7 -7 14 14"><circle r="5.90" fill="#fbd3d7"/><path d="M-2.1 -2.1L2.1 2.1M2.1 -2.1L-2.1 2.1" fill="none" stroke="#c65c66" stroke-width="1.05"/></svg>
<svg class="i" style="left:778.00px;top:593.76px" viewBox="-7 -7 14 14"><circle r="5.90" fill="#fbd3d7"/><path d="M-2.1 -2.1L2.1 2.1M2.1 -2.1L-2.1 2.1" fill="none" stroke="#c65c66" stroke-width="1.05"/></svg>
<div class="t" id="r36" style="left:176.25px;top:611.81px;transform:scaleX(1.0690)">Esporta</div>
<svg class="i" style="left:485.20px;top:610.17px" viewBox="-7 -7 14 14"><circle r="5.90" fill="#d6f6e3"/><path d="M-2.9 -0.2L-0.6 2.1L2.8 -2.3" fill="none" stroke="#479a67" stroke-width="1.25"/></svg>
<svg class="i" style="left:582.80px;top:610.17px" viewBox="-7 -7 14 14"><circle r="5.90" fill="#d6f6e3"/><path d="M-2.9 -0.2L-0.6 2.1L2.8 -2.3" fill="none" stroke="#479a67" stroke-width="1.25"/></svg>
<svg class="i" style="left:680.40px;top:610.17px" viewBox="-7 -7 14 14"><circle r="5.90" fill="#d6f6e3"/><path d="M-2.9 -0.2L-0.6 2.1L2.8 -2.3" fill="none" stroke="#479a67" stroke-width="1.25"/></svg>
<svg class="i" style="left:778.00px;top:610.17px" viewBox="-7 -7 14 14"><circle r="5.90" fill="#d6f6e3"/><path d="M-2.9 -0.2L-0.6 2.1L2.8 -2.3" fill="none" stroke="#479a67" stroke-width="1.25"/></svg>
<div class="s" style="top:624.48px;height:16.42px"></div>
<div class="t" id="r37" style="left:176.50px;top:627.21px;transform:scaleX(1.0698)">eTransmit</div>
<svg class="i" style="left:485.20px;top:626.59px" viewBox="-7 -7 14 14"><circle r="5.90" fill="#d6f6e3"/><path d="M-2.9 -0.2L-0.6 2.1L2.8 -2.3" fill="none" stroke="#479a67" stroke-width="1.25"/></svg>
<svg class="i" style="left:582.80px;top:626.59px" viewBox="-7 -7 14 14"><circle r="5.90" fill="#d6f6e3"/><path d="M-2.9 -0.2L-0.6 2.1L2.8 -2.3" fill="none" stroke="#479a67" stroke-width="1.25"/></svg>
<svg class="i" style="left:680.40px;top:626.59px" viewBox="-7 -7 14 14"><circle r="5.90" fill="#d6f6e3"/><path d="M-2.9 -0.2L-0.6 2.1L2.8 -2.3" fill="none" stroke="#479a67" stroke-width="1.25"/></svg>
<svg class="i" style="left:778.00px;top:626.59px" viewBox="-7 -7 14 14"><circle r="5.90" fill="#d6f6e3"/><path d="M-2.9 -0.2L-0.6 2.1L2.8 -2.3" fill="none" stroke="#479a67" stroke-width="1.25"/></svg>
<div class="t" id="r38" style="left:176.50px;top:645.41px;transform:scaleX(1.0489)">Modellazione Solida, Mesh e Superficiale</div>
<svg class="i" style="left:485.20px;top:642.93px" viewBox="-7 -7 14 14"><circle r="5.90" fill="#fbd3d7"/><path d="M-2.1 -2.1L2.1 2.1M2.1 -2.1L-2.1 2.1" fill="none" stroke="#c65c66" stroke-width="1.05"/></svg>
<svg class="i" style="left:582.80px;top:642.93px" viewBox="-7 -7 14 14"><circle r="5.90" fill="#d6f6e3"/><path d="M-2.9 -0.2L-0.6 2.1L2.8 -2.3" fill="none" stroke="#479a67" stroke-width="1.25"/></svg>
<svg class="i" style="left:680.40px;top:642.93px" viewBox="-7 -7 14 14"><circle r="5.90" fill="#fbd3d7"/><path d="M-2.1 -2.1L2.1 2.1M2.1 -2.1L-2.1 2.1" fill="none" stroke="#c65c66" stroke-width="1.05"/></svg>
<svg class="i" style="left:778.00px;top:642.93px" viewBox="-7 -7 14 14"><circle r="5.90" fill="#d6f6e3"/><path d="M-2.9 -0.2L-0.6 2.1L2.8 -2.3" fill="none" stroke="#479a67" stroke-width="1.25"/></svg>
<div class="s" style="top:657.16px;height:16.26px"></div>
<div class="t" id="r39" style="left:176.50px;top:660.51px;transform:scaleX(1.0667)">Rendering Fotorealistico</div>
<svg class="i" style="left:485.20px;top:659.19px" viewBox="-7 -7 14 14"><circle r="5.90" fill="#fbd3d7"/><path d="M-2.1 -2.1L2.1 2.1M2.1 -2.1L-2.1 2.1" fill="none" stroke="#c65c66" stroke-width="1.05"/></svg>
<svg class="i" style="left:582.80px;top:659.19px" viewBox="-7 -7 14 14"><circle r="5.90" fill="#d6f6e3"/><path d="M-2.9 -0.2L-0.6 2.1L2.8 -2.3" fill="none" stroke="#479a67" stroke-width="1.25"/></svg>
<svg class="i" style="left:680.40px;top:659.19px" viewBox="-7 -7 14 14"><circle r="5.90" fill="#fbd3d7"/><path d="M-2.1 -2.1L2.1 2.1M2.1 -2.1L-2.1 2.1" fill="none" stroke="#c65c66" stroke-width="1.05"/></svg>
<svg class="i" style="left:778.00px;top:659.19px" viewBox="-7 -7 14 14"><circle r="5.90" fill="#d6f6e3"/><path d="M-2.9 -0.2L-0.6 2.1L2.8 -2.3" fill="none" stroke="#479a67" stroke-width="1.25"/></svg>
<div class="t" id="r40" style="left:177.50px;top:677.51px;transform:scaleX(1.0315)">3D Gizmo</div>
<svg class="i" style="left:485.20px;top:675.44px" viewBox="-7 -7 14 14"><circle r="5.90" fill="#fbd3d7"/><path d="M-2.1 -2.1L2.1 2.1M2.1 -2.1L-2.1 2.1" fill="none" stroke="#c65c66" stroke-width="1.05"/></svg>
<svg class="i" style="left:582.80px;top:675.44px" viewBox="-7 -7 14 14"><circle r="5.90" fill="#d6f6e3"/><path d="M-2.9 -0.2L-0.6 2.1L2.8 -2.3" fill="none" stroke="#479a67" stroke-width="1.25"/></svg>
<svg class="i" style="left:680.40px;top:675.44px" viewBox="-7 -7 14 14"><circle r="5.90" fill="#fbd3d7"/><path d="M-2.1 -2.1L2.1 2.1M2.1 -2.1L-2.1 2.1" fill="none" stroke="#c65c66" stroke-width="1.05"/></svg>
<svg class="i" style="left:778.00px;top:675.44px" viewBox="-7 -7 14 14"><circle r="5.90" fill="#d6f6e3"/><path d="M-2.9 -0.2L-0.6 2.1L2.8 -2.3" fill="none" stroke="#479a67" stroke-width="1.25"/></svg>
<div class="s" style="top:689.67px;height:16.26px"></div>
<div class="t" id="r41" style="left:176.50px;top:693.71px;transform:scaleX(1.0365)">Stile di Visualizzazione</div>
<svg class="i" style="left:485.20px;top:691.70px" viewBox="-7 -7 14 14"><circle r="5.90" fill="#d6f6e3"/><path d="M-2.9 -0.2L-0.6 2.1L2.8 -2.3" fill="none" stroke="#479a67" stroke-width="1.25"/></svg>
<svg class="i" style="left:582.80px;top:691.70px" viewBox="-7 -7 14 14"><circle r="5.90" fill="#d6f6e3"/><path d="M-2.9 -0.2L-0.6 2.1L2.8 -2.3" fill="none" stroke="#479a67" stroke-width="1.25"/></svg>
<svg class="i" style="left:680.40px;top:691.70px" viewBox="-7 -7 14 14"><circle r="5.90" fill="#fbd3d7"/><path d="M-2.1 -2.1L2.1 2.1M2.1 -2.1L-2.1 2.1" fill="none" stroke="#c65c66" stroke-width="1.05"/></svg>
<svg class="i" style="left:778.00px;top:691.70px" viewBox="-7 -7 14 14"><circle r="5.90" fill="#d6f6e3"/><path d="M-2.9 -0.2L-0.6 2.1L2.8 -2.3" fill="none" stroke="#479a67" stroke-width="1.25"/></svg>
<div class="t" id="r42" style="left:177.50px;top:708.91px;transform:scaleX(1.0089)">ViewCube</div>
<svg class="i" style="left:485.20px;top:707.96px" viewBox="-7 -7 14 14"><circle r="5.90" fill="#fbd3d7"/><path d="M-2.1 -2.1L2.1 2.1M2.1 -2.1L-2.1 2.1" fill="none" stroke="#c65c66" stroke-width="1.05"/></svg>
<svg class="i" style="left:582.80px;top:707.96px" viewBox="-7 -7 14 14"><circle r="5.90" fill="#d6f6e3"/><path d="M-2.9 -0.2L-0.6 2.1L2.8 -2.3" fill="none" stroke="#479a67" stroke-width="1.25"/></svg>
<svg class="i" style="left:680.40px;top:707.96px" viewBox="-7 -7 14 14"><circle r="5.90" fill="#fbd3d7"/><path d="M-2.1 -2.1L2.1 2.1M2.1 -2.1L-2.1 2.1" fill="none" stroke="#c65c66" stroke-width="1.05"/></svg>
<svg class="i" style="left:778.00px;top:707.96px" viewBox="-7 -7 14 14"><circle r="5.90" fill="#d6f6e3"/><path d="M-2.9 -0.2L-0.6 2.1L2.8 -2.3" fill="none" stroke="#479a67" stroke-width="1.25"/></svg>
<div class="s" style="top:722.19px;height:16.26px"></div>
<div class="t" id="r43" style="left:177.50px;top:726.41px;transform:scaleX(1.0774)">Orbita 3D</div>
<svg class="i" style="left:485.20px;top:724.21px" viewBox="-7 -7 14 14"><circle r="5.90" fill="#d6f6e3"/><path d="M-2.9 -0.2L-0.6 2.1L2.8 -2.3" fill="none" stroke="#479a67" stroke-width="1.25"/></svg>
<svg class="i" style="left:582.80px;top:724.21px" viewBox="-7 -7 14 14"><circle r="5.90" fill="#d6f6e3"/><path d="M-2.9 -0.2L-0.6 2.1L2.8 -2.3" fill="none" stroke="#479a67" stroke-width="1.25"/></svg>
<svg class="i" style="left:680.40px;top:724.21px" viewBox="-7 -7 14 14"><circle r="5.90" fill="#fbd3d7"/><path d="M-2.1 -2.1L2.1 2.1M2.1 -2.1L-2.1 2.1" fill="none" stroke="#c65c66" stroke-width="1.05"/></svg>
<svg class="i" style="left:778.00px;top:724.21px" viewBox="-7 -7 14 14"><circle r="5.90" fill="#d6f6e3"/><path d="M-2.9 -0.2L-0.6 2.1L2.8 -2.3" fill="none" stroke="#479a67" stroke-width="1.25"/></svg>
<div class="t" id="r44" style="left:176.50px;top:740.71px;transform:scaleX(1.0784)">Mouse 3D</div>
<svg class="i" style="left:485.20px;top:740.47px" viewBox="-7 -7 14 14"><circle r="5.90" fill="#d6f6e3"/><path d="M-2.9 -0.2L-0.6 2.1L2.8 -2.3" fill="none" stroke="#479a67" stroke-width="1.25"/></svg>
<svg class="i" style="left:582.80px;top:740.47px" viewBox="-7 -7 14 14"><circle r="5.90" fill="#d6f6e3"/><path d="M-2.9 -0.2L-0.6 2.1L2.8 -2.3" fill="none" stroke="#479a67" stroke-width="1.25"/></svg>
<svg class="i" style="left:680.40px;top:740.47px" viewBox="-7 -7 14 14"><circle r="5.90" fill="#d6f6e3"/><path d="M-2.9 -0.2L-0.6 2.1L2.8 -2.3" fill="none" stroke="#479a67" stroke-width="1.25"/></svg>
<svg class="i" style="left:778.00px;top:740.47px" viewBox="-7 -7 14 14"><circle r="5.90" fill="#d6f6e3"/><path d="M-2.9 -0.2L-0.6 2.1L2.8 -2.3" fill="none" stroke="#479a67" stroke-width="1.25"/></svg>
<div class="s" style="top:754.70px;height:16.26px"></div>
<div class="t" id="r45" style="left:176.25px;top:758.71px;transform:scaleX(1.0503)">Supporto per File MNU, MNS e MNL</div>
<svg class="i" style="left:485.20px;top:756.73px" viewBox="-7 -7 14 14"><circle r="5.90" fill="#d6f6e3"/><path d="M-2.9 -0.2L-0.6 2.1L2.8 -2.3" fill="none" stroke="#479a67" stroke-width="1.25"/></svg>
<svg class="i" style="left:582.80px;top:756.73px" viewBox="-7 -7 14 14"><circle r="5.90" fill="#d6f6e3"/><path d="M-2.9 -0.2L-0.6 2.1L2.8 -2.3" fill="none" stroke="#479a67" stroke-width="1.25"/></svg>
<svg class="i" style="left:680.40px;top:756.73px" viewBox="-7 -7 14 14"><circle r="5.90" fill="#d6f6e3"/><path d="M-2.9 -0.2L-0.6 2.1L2.8 -2.3" fill="none" stroke="#479a67" stroke-width="1.25"/></svg>
<svg class="i" style="left:778.00px;top:756.73px" viewBox="-7 -7 14 14"><circle r="5.90" fill="#d6f6e3"/><path d="M-2.9 -0.2L-0.6 2.1L2.8 -2.3" fill="none" stroke="#479a67" stroke-width="1.25"/></svg>
<div class="t" id="r46" style="left:177.25px;top:775.41px;transform:scaleX(0.9812)">API ActiveX</div>
<svg class="i" style="left:485.20px;top:772.99px" viewBox="-7 -7 14 14"><circle r="5.90" fill="#d6f6e3"/><path d="M-2.9 -0.2L-0.6 2.1L2.8 -2.3" fill="none" stroke="#479a67" stroke-width="1.25"/></svg>
<svg class="i" style="left:582.80px;top:772.99px" viewBox="-7 -7 14 14"><circle r="5.90" fill="#d6f6e3"/><path d="M-2.9 -0.2L-0.6 2.1L2.8 -2.3" fill="none" stroke="#479a67" stroke-width="1.25"/></svg>
<svg class="i" style="left:680.40px;top:772.99px" viewBox="-7 -7 14 14"><circle r="5.90" fill="#d6f6e3"/><path d="M-2.9 -0.2L-0.6 2.1L2.8 -2.3" fill="none" stroke="#479a67" stroke-width="1.25"/></svg>
<svg class="i" style="left:778.00px;top:772.99px" viewBox="-7 -7 14 14"><circle r="5.90" fill="#d6f6e3"/><path d="M-2.9 -0.2L-0.6 2.1L2.8 -2.3" fill="none" stroke="#479a67" stroke-width="1.25"/></svg>
<div class="s" style="top:787.21px;height:16.26px"></div>
<div class="t" id="r47" style="left:176.25px;top:791.51px;transform:scaleX(1.0395)">Supporto LISP</div>
<svg class="i" style="left:485.20px;top:789.24px" viewBox="-7 -7 14 14"><circle r="5.90" fill="#d6f6e3"/><path d="M-2.9 -0.2L-0.6 2.1L2.8 -2.3" fill="none" stroke="#479a67" stroke-width="1.25"/></svg>
<svg class="i" style="left:582.80px;top:789.24px" viewBox="-7 -7 14 14"><circle r="5.90" fill="#d6f6e3"/><path d="M-2.9 -0.2L-0.6 2.1L2.8 -2.3" fill="none" stroke="#479a67" stroke-width="1.25"/></svg>
<svg class="i" style="left:680.40px;top:789.24px" viewBox="-7 -7 14 14"><circle r="5.90" fill="#d6f6e3"/><path d="M-2.9 -0.2L-0.6 2.1L2.8 -2.3" fill="none" stroke="#479a67" stroke-width="1.25"/></svg>
<svg class="i" style="left:778.00px;top:789.24px" viewBox="-7 -7 14 14"><circle r="5.90" fill="#d6f6e3"/><path d="M-2.9 -0.2L-0.6 2.1L2.8 -2.3" fill="none" stroke="#479a67" stroke-width="1.25"/></svg>
<div class="t" id="r48" style="left:176.25px;top:808.10px;transform:scaleX(1.0511)">Debugger Lisp</div>
<svg class="i" style="left:485.20px;top:805.50px" viewBox="-7 -7 14 14"><circle r="5.90" fill="#d6f6e3"/><path d="M-2.9 -0.2L-0.6 2.1L2.8 -2.3" fill="none" stroke="#479a67" stroke-width="1.25"/></svg>
<svg class="i" style="left:582.80px;top:805.50px" viewBox="-7 -7 14 14"><circle r="5.90" fill="#d6f6e3"/><path d="M-2.9 -0.2L-0.6 2.1L2.8 -2.3" fill="none" stroke="#479a67" stroke-width="1.25"/></svg>
<svg class="i" style="left:680.40px;top:805.50px" viewBox="-7 -7 14 14"><circle r="5.90" fill="#fbd3d7"/><path d="M-2.1 -2.1L2.1 2.1M2.1 -2.1L-2.1 2.1" fill="none" stroke="#c65c66" stroke-width="1.05"/></svg>
<svg class="i" style="left:778.00px;top:805.50px" viewBox="-7 -7 14 14"><circle r="5.90" fill="#d6f6e3"/><path d="M-2.9 -0.2L-0.6 2.1L2.8 -2.3" fill="none" stroke="#479a67" stroke-width="1.25"/></svg>
<div class="s" style="top:819.73px;height:16.26px"></div>
<div class="t" id="r49" style="left:177.25px;top:824.81px;transform:scaleX(1.0240)">Visual Basic for Applications (VBA)</div>
<svg class="i" style="left:485.20px;top:821.76px" viewBox="-7 -7 14 14"><circle r="5.90" fill="#fbd3d7"/><path d="M-2.1 -2.1L2.1 2.1M2.1 -2.1L-2.1 2.1" fill="none" stroke="#c65c66" stroke-width="1.05"/></svg>
<svg class="i" style="left:582.80px;top:821.76px" viewBox="-7 -7 14 14"><circle r="5.90" fill="#d6f6e3"/><path d="M-2.9 -0.2L-0.6 2.1L2.8 -2.3" fill="none" stroke="#479a67" stroke-width="1.25"/></svg>
<svg class="i" style="left:680.40px;top:821.76px" viewBox="-7 -7 14 14"><circle r="5.90" fill="#fbd3d7"/><path d="M-2.1 -2.1L2.1 2.1M2.1 -2.1L-2.1 2.1" fill="none" stroke="#c65c66" stroke-width="1.05"/></svg>
<svg class="i" style="left:778.00px;top:821.76px" viewBox="-7 -7 14 14"><circle r="5.90" fill="#d6f6e3"/><path d="M-2.9 -0.2L-0.6 2.1L2.8 -2.3" fill="none" stroke="#479a67" stroke-width="1.25"/></svg>
<div class="t" id="r50" style="left:176.25px;top:839.51px;transform:scaleX(1.0027)">Estensione Runtime (ZRX/ARX)</div>
<svg class="i" style="left:485.20px;top:838.01px" viewBox="-7 -7 14 14"><circle r="5.90" fill="#fbd3d7"/><path d="M-2.1 -2.1L2.1 2.1M2.1 -2.1L-2.1 2.1" fill="none" stroke="#c65c66" stroke-width="1.05"/></svg>
<svg class="i" style="left:582.80px;top:838.01px" viewBox="-7 -7 14 14"><circle r="5.90" fill="#d6f6e3"/><path d="M-2.9 -0.2L-0.6 2.1L2.8 -2.3" fill="none" stroke="#479a67" stroke-width="1.25"/></svg>
<svg class="i" style="left:680.40px;top:838.01px" viewBox="-7 -7 14 14"><circle r="5.90" fill="#fbd3d7"/><path d="M-2.1 -2.1L2.1 2.1M2.1 -2.1L-2.1 2.1" fill="none" stroke="#c65c66" stroke-width="1.05"/></svg>
<svg class="i" style="left:778.00px;top:838.01px" viewBox="-7 -7 14 14"><circle r="5.90" fill="#d6f6e3"/><path d="M-2.9 -0.2L-0.6 2.1L2.8 -2.3" fill="none" stroke="#479a67" stroke-width="1.25"/></svg>
<div class="s" style="top:852.24px;height:16.26px"></div>
<div class="t" id="r51" style="left:176.25px;top:856.10px;transform:scaleX(0.9412)">.NET</div>
<svg class="i" style="left:485.20px;top:854.27px" viewBox="-7 -7 14 14"><circle r="5.90" fill="#fbd3d7"/><path d="M-2.1 -2.1L2.1 2.1M2.1 -2.1L-2.1 2.1" fill="none" stroke="#c65c66" stroke-width="1.05"/></svg>
<svg class="i" style="left:582.80px;top:854.27px" viewBox="-7 -7 14 14"><circle r="5.90" fill="#d6f6e3"/><path d="M-2.9 -0.2L-0.6 2.1L2.8 -2.3" fill="none" stroke="#479a67" stroke-width="1.25"/></svg>
<svg class="i" style="left:680.40px;top:854.27px" viewBox="-7 -7 14 14"><circle r="5.90" fill="#fbd3d7"/><path d="M-2.1 -2.1L2.1 2.1M2.1 -2.1L-2.1 2.1" fill="none" stroke="#c65c66" stroke-width="1.05"/></svg>
<svg class="i" style="left:778.00px;top:854.27px" viewBox="-7 -7 14 14"><circle r="5.90" fill="#d6f6e3"/><path d="M-2.9 -0.2L-0.6 2.1L2.8 -2.3" fill="none" stroke="#479a67" stroke-width="1.25"/></svg>
<div class="l" id="l0" style="left:17.50px;top:78.81px;transform:scaleX(1.0458)">Riferimenti</div>
<div class="l" id="l1" style="left:17.50px;top:349.71px;transform:scaleX(1.0102)">Funzioni Avanzate</div>
<div class="l" id="l2" style="left:17.50px;top:579.00px;transform:scaleX(1.0177)">Stampa e Plotting</div>
<div class="l" id="l3" style="left:17.50px;top:687.21px;transform:scaleX(1.0058)">Modellazione 3D</div>
<div class="l" id="l4" style="left:17.50px;top:800.81px;transform:scaleX(1.0218)">Programmazione</div>
<div class="h" style="top:21px;background:#949fa6"></div>
<div class="h" style="top:151px;background:#97a2a9"></div>
<div class="h" style="top:152px;background:#dfe5e8"></div>
<div class="h" style="top:542px;background:#97a2a9"></div>
<div class="h" style="top:640px;background:#aeb9bf"></div>
<div class="h" style="top:641px;background:#c4ced2"></div>
<div class="h" style="top:754px;background:#97a2a9"></div>
<div class="h" style="top:755px;background:#e0e6e9"></div>
<div class="v"></div>
</div>
</body></html>
